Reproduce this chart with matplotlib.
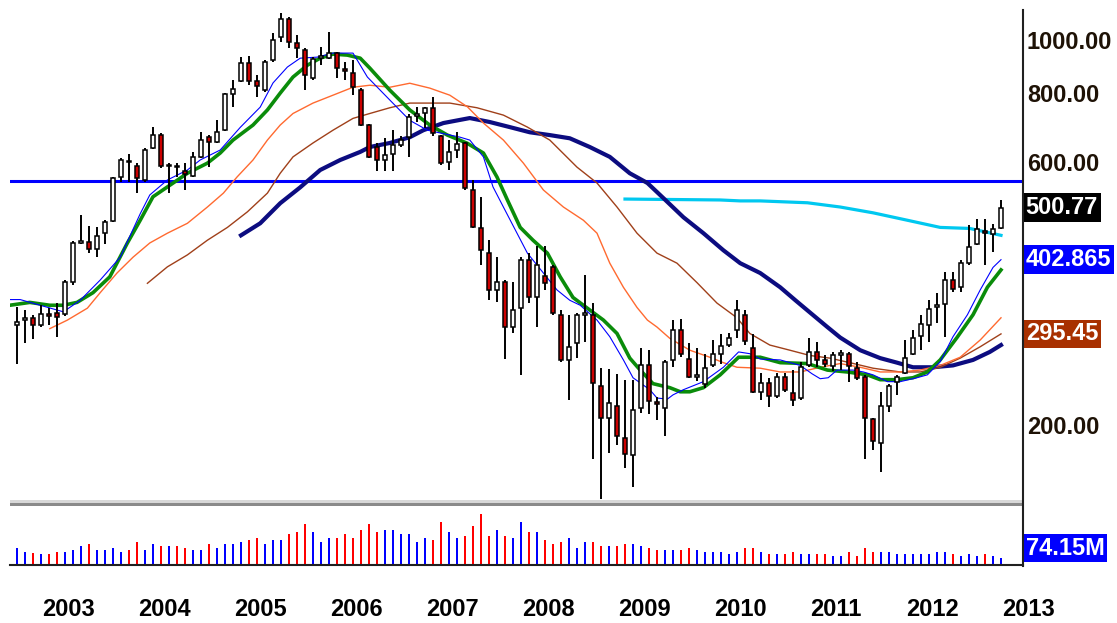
import numpy as np
import matplotlib.pyplot as plt
from matplotlib.lines import Line2D
from matplotlib.patches import Rectangle

plt.rcParams['font.family'] = ['Liberation Sans', 'DejaVu Sans']

# monthly candles, first bar = Jul 2002, last bar = Oct 2012
opens = [306, 313, 316, 306, 321, 322, 321, 367, 432, 434,
         422, 450, 473, 569, 609, 596, 562, 642, 678, 596,
         596, 583, 571, 619, 672, 659, 692, 804, 849, 916,
         849, 818, 927, 1021, 1101, 996, 967, 860, 935, 935,
         955, 893, 879, 818, 707, 645, 611, 627, 650, 672,
         734, 745, 760, 675, 606, 637, 656, 539, 460, 415,
         355, 367, 304, 329, 402, 344, 376, 390, 320, 265,
         285, 320, 320, 238, 208, 219, 191, 178, 217, 259,
         222, 217, 265, 300, 266, 247, 240, 259, 272, 282,
         300, 320, 279, 232, 241, 228, 247, 231, 226, 259,
         274, 265, 258, 271, 272, 256, 247, 207, 187, 219,
         242, 251, 272, 293, 306, 331, 335, 370, 359, 398,
         430, 455, 448, 459]
highs = [330, 326, 320, 333, 329, 336, 370, 436, 485, 463,
         461, 475, 569, 616, 627, 604, 642, 701, 683, 604,
         604, 604, 631, 686, 678, 721, 807, 853, 939, 943,
         871, 927, 1038, 1129, 1110, 1030, 975, 939, 980, 1042,
         958, 919, 927, 825, 710, 655, 670, 692, 675, 740,
         763, 763, 795, 678, 664, 686, 659, 562, 524, 437,
         407, 370, 367, 407, 414, 426, 426, 394, 326, 320,
         323, 378, 336, 256, 255, 250, 244, 244, 278, 276,
         227, 265, 313, 315, 284, 278, 272, 288, 295, 297,
         340, 326, 295, 251, 246, 251, 251, 254, 263, 290,
         286, 270, 274, 276, 274, 263, 249, 208, 232, 240,
         249, 288, 300, 320, 340, 350, 382, 382, 402, 466,
         477, 477, 468, 518]
lows = [261, 285, 289, 304, 306, 292, 318, 362, 430, 414,
        407, 431, 471, 557, 557, 532, 557, 640, 591, 532,
        569, 539, 569, 617, 593, 656, 690, 761, 846, 835,
        794, 811, 919, 1000, 975, 935, 818, 853, 908, 932,
        860, 853, 801, 704, 616, 583, 583, 583, 645, 619,
        715, 698, 675, 598, 586, 617, 539, 460, 394, 340,
        337, 266, 296, 249, 336, 304, 355, 320, 263, 224,
        267, 286, 175, 148, 180, 186, 169, 156, 212, 211,
        206, 193, 257, 268, 246, 243, 236, 257, 261, 280,
        291, 282, 231, 224, 218, 226, 232, 219, 224, 257,
        257, 257, 253, 254, 242, 244, 175, 182, 166, 213,
        229, 250, 270, 276, 286, 309, 292, 352, 352, 394,
        428, 394, 416, 457]
closes = [310, 316, 307, 321, 319, 317, 367, 432, 435, 422,
          444, 471, 567, 611, 606, 567, 637, 678, 596, 598,
          593, 576, 619, 664, 659, 686, 804, 821, 916, 849,
          831, 920, 1008, 1101, 1000, 975, 871, 931, 943, 955,
          897, 886, 828, 707, 619, 611, 624, 650, 664, 730,
          740, 760, 684, 603, 632, 653, 543, 462, 419, 355,
          367, 304, 326, 402, 344, 394, 365, 323, 265, 280,
          320, 322, 241, 208, 221, 193, 179, 215, 259, 223,
          220, 263, 300, 272, 247, 249, 256, 272, 281, 291,
          326, 287, 232, 241, 228, 247, 234, 224, 257, 274,
          265, 261, 270, 273, 258, 246, 208, 189, 219, 238,
          247, 267, 290, 308, 328, 334, 370, 357, 398, 425,
          457, 450, 457, 500.77]
# volume in millions
volume = [75, 57, 50, 48, 48, 57, 57, 66, 84, 93,
          66, 66, 75, 57, 66, 102, 66, 93, 84, 84,
          84, 75, 66, 66, 93, 75, 93, 93, 102, 111,
          120, 93, 111, 111, 136, 147, 183, 147, 102, 120,
          120, 136, 120, 156, 183, 147, 156, 156, 138, 138,
          102, 120, 111, 192, 147, 120, 129, 174, 228, 129,
          156, 129, 120, 192, 147, 147, 111, 93, 102, 120,
          75, 102, 102, 84, 84, 84, 93, 93, 84, 75,
          66, 66, 66, 66, 75, 66, 57, 57, 57, 48,
          57, 75, 75, 57, 48, 48, 48, 57, 48, 48,
          48, 48, 39, 39, 57, 39, 75, 57, 57, 57,
          48, 48, 48, 48, 48, 57, 57, 48, 39, 48,
          39, 48, 39, 30]

# moving averages (bar index, price)
fast_x = [-0.9, 0.4, 2.9, 5.8, 7.9, 10.4, 12.9, 15.4, 16.6, 18.8, 21.3, 22.9, 25.4, 27.9,
          30.4, 32.0, 33.8, 35.4, 37.5, 39.5, 42.0, 43.8, 46.6, 49.1, 51.3, 52.5, 55.4,
          56.6, 58.3, 59.5, 60.8, 62.5, 63.8, 65.8, 67.5, 69.1, 70.4, 72.5, 74.1, 75.8,
          77.0, 79.1, 80.0, 81.3, 82.0, 83.3, 85.8, 88.3, 90.2, 91.6, 92.9, 95.4,
          97.9, 99.4, 100.4, 101.4, 102.5, 104.5, 105.8, 107.0, 108.8, 110.4, 112.5, 113.8,
          115.4, 117.0, 118.8, 120.4, 122.0, 123.0]
fast_y = [341, 341, 333, 324, 340, 370, 407, 488, 528, 562, 586, 611, 637, 700,
          762, 843, 901, 935, 939, 955, 955, 864, 785, 721, 692, 686, 672,
          664, 619, 546, 502, 450, 414, 381, 355, 340, 333, 313, 292, 265,
          246, 234, 226, 225, 229, 234, 242, 257, 274, 272, 266, 265,
          259, 250, 245, 246, 254, 254, 252, 249, 242, 242, 246, 249,
          263, 292, 320, 355, 390, 402.865]
mid_x = [-0.9, 1.6, 4.1, 5.8, 7.5, 9.5, 11.6, 13.8, 15.4, 17.0, 18.8, 21.3, 23.8, 25.4,
         27.0, 29.5, 31.3, 32.9, 34.5, 36.3, 37.9, 39.5, 41.3, 42.9, 44.1, 46.6, 49.1,
         51.6, 53.8, 56.3, 58.3, 60.0, 61.3, 62.9, 64.5, 66.3, 67.9, 69.5, 70.8, 73.3,
         75.0, 76.6, 77.9, 79.5, 81.6, 82.9, 84.1, 85.8, 87.9, 90.2, 92.9, 95.4,
         98.8, 101.3, 103.8, 106.3, 107.9, 110.0, 112.0, 113.8, 115.4, 117.5, 119.5, 121.3,
         123.0]
mid_y = [333, 337, 333, 333, 337, 351, 375, 432, 475, 524, 546, 578, 603, 629,
         664, 707, 753, 808, 864, 908, 935, 951, 947, 935, 897, 818, 753,
         707, 678, 655, 629, 569, 517, 461, 437, 414, 375, 344, 333, 313,
         296, 267, 254, 240, 236, 232, 232, 236, 249, 268, 268, 262,
         261, 254, 252, 249, 244, 244, 246, 252, 265, 291, 320, 359,
         386]
orange_x = [4.1, 6.3, 8.8, 10.4, 12.5, 14.5, 16.6, 18.8, 21.3, 23.8, 25.8, 27.5, 29.5, 31.3,
            32.9, 34.5, 37.0, 39.5, 42.0, 44.1, 46.6, 49.1, 51.6, 54.1, 56.3, 58.3, 60.8,
            63.3, 65.8, 68.3, 70.8, 72.5, 74.1, 75.8, 77.5, 78.8, 80.0, 81.6, 84.1, 86.6,
            88.3, 90.0, 92.9, 95.4, 97.9, 100.4, 102.9, 105.4, 107.9, 110.4, 112.9, 115.4,
            117.9, 120.4, 123.0]
orange_y = [302, 313, 329, 351, 381, 407, 432, 450, 469, 502, 532, 569, 611, 664,
            707, 742, 775, 801, 828, 835, 828, 842, 825, 801, 763, 713, 664,
            603, 539, 502, 475, 450, 397, 359, 330, 313, 304, 290, 276, 268,
            262, 257, 256, 252, 252, 257, 261, 257, 252, 252, 254, 259,
            268, 288, 316]
brown_x = [16.3, 18.8, 21.3, 23.8, 26.3, 28.8, 31.3, 32.9, 34.5, 37.0, 39.5, 42.0, 44.1, 46.6,
           49.1, 54.1, 57.5, 60.8, 63.8, 66.6, 70.0, 72.5, 75.0, 77.5, 80.0, 82.5, 85.0,
           87.5, 90.0, 91.6, 94.1, 96.6, 99.1, 101.6, 104.1, 107.0, 110.4, 112.9, 115.4,
           117.9, 120.4, 123.0]
brown_y = [365, 391, 411, 437, 461, 492, 532, 578, 619, 656, 692, 727, 742, 760,
           775, 775, 760, 737, 701, 664, 593, 555, 502, 450, 414, 397, 366,
           336, 316, 296, 282, 276, 270, 267, 262, 256, 252, 252, 257,
           267, 280, 295.45]
navy_x = [28.0, 30.4, 32.9, 35.4, 37.9, 40.4, 42.9, 44.1, 46.6, 49.1, 50.8, 53.3, 56.6, 59.1,
          61.6, 64.1, 66.6, 69.1, 71.6, 74.1, 76.6, 78.8, 80.8, 83.3, 85.8, 88.3, 90.4,
          92.9, 95.4, 97.3, 98.8, 101.3, 102.9, 105.4, 107.9, 110.0, 112.0, 114.5, 117.0,
          119.5, 121.6, 123.0]
navy_y = [446, 469, 510, 545, 586, 611, 632, 645, 656, 672, 692, 713, 728, 716,
          701, 686, 678, 669, 645, 619, 578, 555, 521, 481, 450, 419, 397,
          381, 359, 340, 326, 304, 291, 276, 267, 262, 257, 257, 259,
          265, 274, 282]
cyan_x = [76.0, 87.9, 90.4, 92.9, 98.8, 102.9, 107.0, 111.3, 115.4, 119.1, 123.0]
cyan_y = [519, 517, 515, 515, 511, 502, 490, 475, 461, 459, 446]

level = 560
price_ticks = [1000, 800, 600, 200]
years = list(range(2003, 2014))

o = np.array(opens, float)
h = np.array(highs, float)
l = np.array(lows, float)
c = np.array(closes, float)
idx = np.arange(len(c))
up = c >= o

W, H = 1117.0, 623.0
fig = plt.figure(figsize=(W / 100, H / 100), dpi=100)
fig.patch.set_facecolor('white')


def px_axes(x0, y0, x1, y1):
    return fig.add_axes([x0 / W, 1 - y1 / H, (x1 - x0) / W, (y1 - y0) / H])


ax = px_axes(10, 8, 1023, 500)
axv = px_axes(10, 507, 1023, 564.5)

# price panel
ax.set_yscale('log')
ax.set_xlim(-0.875, 125.75)
ax.set_ylim(147.6, 1153)
ax.axhline(level, color='#0000ff', lw=2.2, zorder=2)
ax.plot(cyan_x, cyan_y, color='#00c8f0', lw=2.3, zorder=3)
ax.plot(navy_x, navy_y, color='#0c0c80', lw=3.0, zorder=3)
ax.plot(brown_x, brown_y, color='#a0401a', lw=1.0, zorder=3)
ax.plot(orange_x, orange_y, color='#ff6a30', lw=1.0, zorder=3)
ax.plot(mid_x, mid_y, color='#0a8c0a', lw=2.6, zorder=3)
ax.plot(fast_x, fast_y, color='#0000ff', lw=0.8, zorder=3)

ax.vlines(idx, l, h, color='black', lw=1.4, zorder=5)
ax.bar(idx, np.abs(c - o), bottom=np.minimum(o, c), width=0.6,
       color=np.where(up, 'white', '#cc0000'), edgecolor='black', lw=1.1, zorder=6)

for s in ax.spines.values():
    s.set_visible(False)
ax.tick_params(axis='both', which='both', length=0, labelleft=False, labelbottom=False)

lab = dict(fontsize=17, fontweight='bold', va='center', ha='left', clip_on=False)
ytr = ax.get_yaxis_transform()
for v in price_ticks:
    ax.text(1.0039, v, f'{v:.2f}', transform=ytr, color='#1e1206', **lab)
boxes = [(closes[-1], '500.77', 'black'),
         (fast_y[-1], '402.865', '#0000ff'),
         (brown_y[-1], '295.45', '#a83000')]
for v, t, fc in boxes:
    ax.text(1.0026, v, t, transform=ytr, color='white', zorder=10,
            bbox=dict(boxstyle='square,pad=0.12', fc=fc, ec='none'), **lab)

# volume panel
axv.set_xlim(-0.875, 125.75)
axv.set_ylim(0, 258.75)
axv.bar(idx, volume, width=0.28, color=np.where(up, '#0000ff', '#ff0000'))
for k, s in axv.spines.items():
    s.set_visible(k == 'bottom')
axv.spines['bottom'].set_color('#202020')
axv.spines['bottom'].set_linewidth(1.5)
axv.tick_params(axis='both', which='both', length=0, labelleft=False, labelbottom=False)
axv.text(1.0026, 74.15, '74.15M', transform=axv.get_yaxis_transform(), color='white',
         bbox=dict(boxstyle='square,pad=0.12', fc='#0000ff', ec='none'), **lab)

xtr = axv.get_xaxis_transform()
for k, yr in enumerate(years):
    axv.text(6.4 + 12 * k, -0.79, str(yr), transform=xtr, ha='center', va='center',
             fontsize=17, fontweight='bold', color='black', clip_on=False)

# panel separator and right border
fig.add_artist(Rectangle((10 / W, 1 - 502.5 / H), 1013 / W, 3 / H,
                         transform=fig.transFigure, color='#d8d8d8', lw=0))
fig.add_artist(Rectangle((10 / W, 1 - 506 / H), 1013 / W, 3.5 / H,
                         transform=fig.transFigure, color='#8a8a8a', lw=0))
fig.add_artist(Line2D([1023 / W, 1023 / W], [1 - 10 / H, 1 - 566 / H],
                      transform=fig.transFigure, color='#202020', lw=1.5))

fig.savefig('out.png', dpi=100, facecolor='white')
